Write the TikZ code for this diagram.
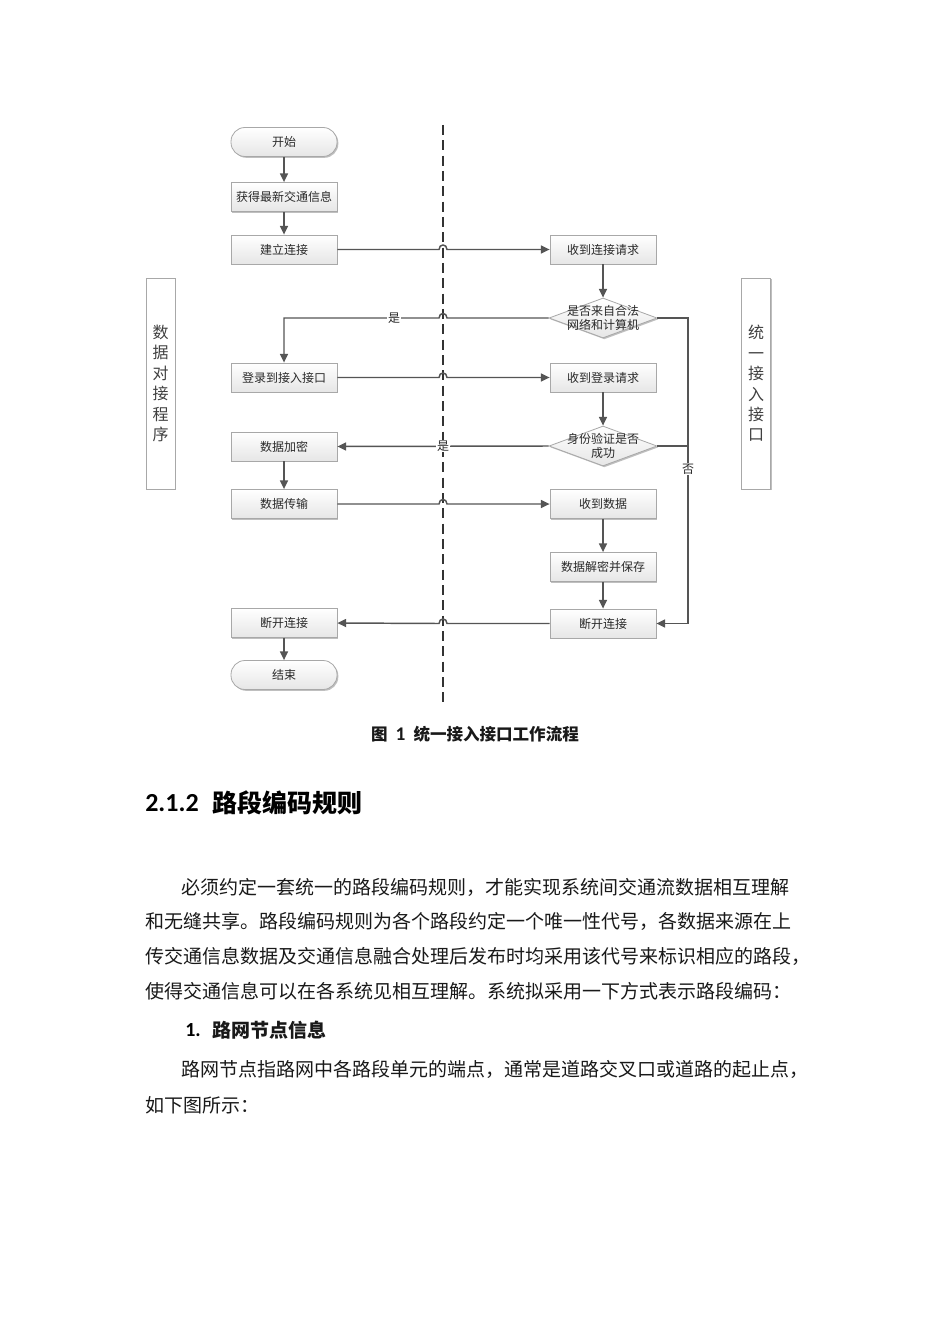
\documentclass[tikz,border=0pt]{standalone}
\usepackage{fontspec}
\newfontfamily\cjk{Noto Sans CJK SC}
\newfontfamily\carfont{Carlito}
\usetikzlibrary{shapes.geometric,arrows.meta,shadows,calc}
\definecolor{boxgray}{HTML}{A8A8A8}
\definecolor{boxbot}{HTML}{E6E6E6}
\definecolor{linegray}{HTML}{555555}
\definecolor{txtgray}{HTML}{2A2A2A}
\tikzset{
  box/.style={draw=boxgray, line width=0.6pt, top color=white, bottom color=boxbot,
    minimum width=79.5pt, minimum height=21.75pt, inner sep=0pt,
    font=\cjk\fontsize{9}{11}\selectfont, text=txtgray,
    drop shadow={shadow xshift=1pt, shadow yshift=-1pt, opacity=0.25, fill=black}},
  term/.style={box, rounded corners=10.5pt},
  dia/.style={diamond, aspect=2.7, draw=boxgray, line width=0.6pt, top color=white, bottom color=boxbot,
    minimum width=81pt, minimum height=30pt, inner sep=0pt,
    drop shadow={shadow xshift=1pt, shadow yshift=-1pt, opacity=0.25, fill=black}},
  diatext/.style={font=\cjk\fontsize{9}{11}\selectfont, text=txtgray, align=center, inner sep=0pt},
  lane/.style={draw=boxgray, line width=0.6pt, fill=white, minimum width=21.75pt, minimum height=158.25pt,
    inner sep=0pt, align=center, font=\cjk\fontsize{12}{15.3}\selectfont, text=black!75,
    drop shadow={shadow xshift=1pt, shadow yshift=-1pt, opacity=0.25, fill=black}},
  arr/.style={draw=linegray, line width=1.1pt, -{Triangle[length=6.5pt,width=6pt]}},
  ln/.style={draw=linegray, line width=1.1pt},
  lbl/.style={font=\cjk\fontsize{9}{11}\selectfont, text=txtgray, fill=white, inner sep=0.5pt},
  body/.style={anchor=west, inner sep=0pt, font=\cjk\fontsize{14.25}{17}\selectfont, text=black!90},
}
\begin{document}
\begin{tikzpicture}[x=0.75pt,y=-0.75pt]
\useasboundingbox[fill=white] (0,0) rectangle (950,1344);

% swimlane divider
\coordinate (dtop) at (443,125);
\coordinate (dbot) at (443,703);
\draw[black!80, line width=1.1pt, dash pattern=on 7.5pt off 4pt] (dtop) -- (dbot);

% lane labels
\node[lane] (laneL) at (160.5,383.5) {数\\据\\对\\接\\程\\序};
\node[lane] (laneR) at (756,383.5) {统\\一\\接\\入\\接\\口};

% left column
\node[term] (start) at (284,142) {开始};
\node[box] (info) at (284,197) {获得最新交通信息};
\node[box] (conn) at (284,249.5) {建立连接};
\node[box] (login) at (284,377.5) {登录到接入接口};
\node[box] (enc) at (284,446.5) {数据加密};
\node[box] (trans) at (284,504) {数据传输};
\node[box] (ldisc) at (284,623) {断开连接};
\node[term] (stop) at (284,675) {结束};

% right column
\node[box] (rconn) at (603,249.5) {收到连接请求};
\node[dia] (d1) at (603,318) {};
\node[diatext] (d1t) at (603,318) {是否来自合法\\网络和计算机};
\node[box] (rlogin) at (603,377.5) {收到登录请求};
\node[dia] (d2) at (603,446) {};
\node[diatext] (d2t) at (603,446) {身份验证是否\\成功};
\node[box] (rdata) at (603,504) {收到数据};
\node[box] (decr) at (603,567) {数据解密并保存};
\node[box] (rdisc) at (603,623.5) {断开连接};

\coordinate (rail) at (688,318);

% connectors
\draw[arr] (start) -- (info);
\draw[arr] (info) -- (conn);
\draw[arr] (conn.east) -- ($(conn.east -| dtop)+(-4,0)$) .. controls +(0,-6) and +(0,-6) .. ($(conn.east -| dtop)+(4,0)$) -- (rconn.west);
\draw[arr] (rconn) -- (d1);
\draw[arr] (d1.west) -- ($(d1.west -| dtop)+(4,0)$) .. controls +(0,-6) and +(0,-6) .. ($(d1.west -| dtop)+(-4,0)$) -- (d1.west -| login) -- (login.north);
\node[lbl] (yes1) at (394,318) {是};
\draw[arr] (d1.east) -- (rail) |- (rdisc.east);
\draw[arr] (login.east) -- ($(login.east -| dtop)+(-4,0)$) .. controls +(0,-6) and +(0,-6) .. ($(login.east -| dtop)+(4,0)$) -- (rlogin.west);
\draw[arr] (rlogin) -- (d2);
\draw[ln] (d2.east) -- (d2.east -| rail);
\draw[arr] (d2.west) -- (enc.east);
\node[lbl] (yes2) at (443,446) {是};
\node[lbl] (no1) at (688,469) {否};
\draw[arr] (enc) -- (trans);
\draw[arr] (trans.east) -- ($(trans.east -| dtop)+(-4,0)$) .. controls +(0,-6) and +(0,-6) .. ($(trans.east -| dtop)+(4,0)$) -- (rdata.west);
\draw[arr] (rdata) -- (decr);
\draw[arr] (decr) -- (rdisc);
\draw[arr] (rdisc.west) -- ($(rdisc.west -| dtop)+(4,0)$) .. controls +(0,-6) and +(0,-6) .. ($(rdisc.west -| dtop)+(-4,0)$) -- (ldisc.east);
\draw[arr] (ldisc) -- (stop);

% caption
\node[font=\cjk\bfseries\fontsize{12.4}{14}\selectfont, text=black!90] (cap) at (475,734) {图\hspace{6pt}{\carfont\bfseries\fontsize{14.5}{14}\selectfont 1}\hspace{6pt}统一接入接口工作流程};

% heading
\node[anchor=west, inner sep=0pt, font=\carfont\bfseries\fontsize{19.5}{22}\selectfont] (hnum) at (145,803) {2.1.2};
\node[anchor=west, inner sep=0pt, font=\cjk\bfseries\fontsize{18.75}{22}\selectfont] (htxt) at (212,803) {路段编码规则};

% body text
\node[body] (p1) at (181,887) {必须约定一套统一的路段编码规则，才能实现系统间交通流数据相互理解};
\node[body] (p2) at (145,921) {和无缝共享。路段编码规则为各个路段约定一个唯一性代号，各数据来源在上};
\node[body] (p3) at (145,956) {传交通信息数据及交通信息融合处理后发布时均采用该代号来标识相应的路段，};
\node[body] (p4) at (145,991) {使得交通信息可以在各系统见相互理解。系统拟采用一下方式表示路段编码：};
\node[anchor=west, inner sep=0pt, font=\carfont\bfseries\fontsize{15}{17}\selectfont] (s1n) at (185,1030) {1.};
\node[body, font=\cjk\bfseries\fontsize{14.25}{17}\selectfont] (s1t) at (212,1030) {路网节点信息};
\node[body] (p5) at (181,1069) {路网节点指路网中各路段单元的端点，通常是道路交叉口或道路的起止点，};
\node[body] (p6) at (145,1105) {如下图所示：};
\end{tikzpicture}
\end{document}
